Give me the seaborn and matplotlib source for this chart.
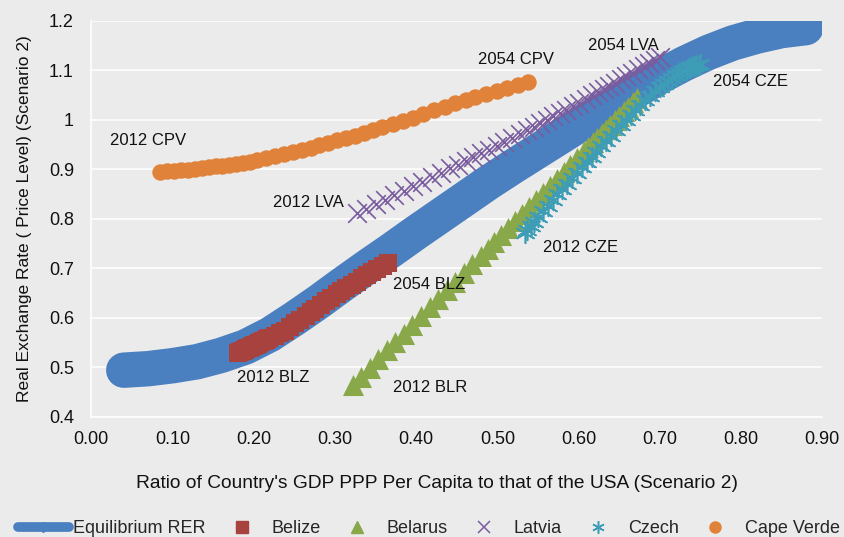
import matplotlib
matplotlib.use("Agg")
import matplotlib.pyplot as plt
import seaborn as sns
from matplotlib.lines import Line2D

# equilibrium RER curve (centre of the thick band)
eq_x = [0.040, 0.070, 0.100, 0.130, 0.160, 0.190, 0.220, 0.250, 0.280, 0.310, 0.340, 0.370, 0.400,
        0.430, 0.460, 0.490, 0.520, 0.550, 0.580, 0.610, 0.640, 0.670, 0.700, 0.730, 0.760, 0.790,
        0.820, 0.850, 0.880]
eq_y = [0.494, 0.497, 0.503, 0.511, 0.524, 0.541, 0.566, 0.598, 0.632, 0.668, 0.703, 0.737, 0.772,
        0.806, 0.840, 0.874, 0.906, 0.937, 0.968, 0.999, 1.028, 1.058, 1.087, 1.113, 1.136, 1.155,
        1.169, 1.180, 1.186]

# country paths 2012 -> 2054
blz_x = [0.181, 0.183, 0.185, 0.187, 0.189, 0.191, 0.193, 0.195, 0.197, 0.199, 0.201, 0.203, 0.205,
         0.207, 0.209, 0.211, 0.213, 0.215, 0.217, 0.219, 0.226, 0.232, 0.238, 0.245, 0.251, 0.257,
         0.264, 0.270, 0.276, 0.283, 0.289, 0.295, 0.302, 0.308, 0.314, 0.321, 0.327, 0.333, 0.340,
         0.346, 0.352, 0.359, 0.365]
blz_y = [0.529, 0.530, 0.532, 0.533, 0.535, 0.536, 0.538, 0.539, 0.541, 0.542, 0.544, 0.545, 0.547,
         0.548, 0.550, 0.552, 0.553, 0.555, 0.556, 0.558, 0.564, 0.569, 0.574, 0.582, 0.589, 0.596,
         0.604, 0.611, 0.618, 0.626, 0.633, 0.640, 0.647, 0.654, 0.660, 0.667, 0.673, 0.680, 0.687,
         0.693, 0.699, 0.705, 0.711]

blr_x = [0.322, 0.3325, 0.343, 0.3535, 0.364, 0.3745, 0.385, 0.3955, 0.406, 0.4165, 0.427, 0.4375,
         0.448, 0.4585, 0.469, 0.4795, 0.488, 0.4965, 0.505, 0.5135, 0.522, 0.5305, 0.539, 0.5475,
         0.556, 0.5645, 0.573, 0.5815, 0.590, 0.5985, 0.607, 0.612, 0.618, 0.623, 0.629, 0.634,
         0.639, 0.645, 0.650, 0.656, 0.661, 0.667, 0.672]
blr_y = [0.464, 0.481, 0.499, 0.516, 0.534, 0.551, 0.568, 0.586, 0.603, 0.621, 0.638, 0.655, 0.673,
         0.690, 0.708, 0.725, 0.739, 0.753, 0.767, 0.781, 0.795, 0.809, 0.824, 0.838, 0.852, 0.866,
         0.880, 0.894, 0.908, 0.922, 0.936, 0.945, 0.954, 0.963, 0.973, 0.981, 0.989, 0.999, 1.007,
         1.017, 1.026, 1.036, 1.044]

lva_x = [0.327, 0.3385, 0.350, 0.3615, 0.373, 0.3845, 0.396, 0.4075, 0.419, 0.4305, 0.442, 0.4515,
         0.461, 0.4705, 0.480, 0.4895, 0.499, 0.5085, 0.518, 0.5275, 0.537, 0.545, 0.553, 0.561,
         0.569, 0.577, 0.585, 0.593, 0.601, 0.609, 0.617, 0.624, 0.631, 0.638, 0.645, 0.652, 0.659,
         0.666, 0.673, 0.680, 0.687, 0.694, 0.700]
lva_y = [0.811, 0.820, 0.829, 0.838, 0.847, 0.856, 0.866, 0.875, 0.884, 0.893, 0.902, 0.909, 0.917,
         0.924, 0.932, 0.939, 0.947, 0.955, 0.963, 0.971, 0.979, 0.986, 0.993, 1.000, 1.007, 1.013,
         1.020, 1.027, 1.034, 1.041, 1.049, 1.056, 1.062, 1.069, 1.075, 1.082, 1.088, 1.095, 1.102,
         1.108, 1.115, 1.121, 1.127]

cze_x = [0.534, 0.537, 0.541, 0.545, 0.550, 0.556, 0.562, 0.568, 0.574, 0.580, 0.586, 0.592, 0.598,
         0.604, 0.610, 0.616, 0.622, 0.628, 0.634, 0.640, 0.646, 0.652, 0.658, 0.664, 0.670, 0.676,
         0.682, 0.688, 0.694, 0.700, 0.705, 0.710, 0.715, 0.720, 0.724, 0.728, 0.732, 0.736, 0.739,
         0.742, 0.745, 0.748, 0.750]
cze_y = [0.771, 0.777, 0.785, 0.793, 0.803, 0.815, 0.826, 0.838, 0.849, 0.860, 0.871, 0.882, 0.893,
         0.904, 0.914, 0.925, 0.935, 0.946, 0.957, 0.968, 0.979, 0.989, 0.999, 1.009, 1.019, 1.029,
         1.039, 1.048, 1.057, 1.066, 1.073, 1.079, 1.085, 1.090, 1.094, 1.098, 1.101, 1.104, 1.106,
         1.108, 1.110, 1.111, 1.112]

cpv_x = [0.085, 0.0935, 0.102, 0.1105, 0.119, 0.1275, 0.136, 0.1445, 0.153, 0.1615, 0.170, 0.1785,
         0.187, 0.1955, 0.204, 0.215, 0.226, 0.237, 0.248, 0.259, 0.270, 0.281, 0.292, 0.303, 0.314,
         0.325, 0.336, 0.347, 0.358, 0.371, 0.384, 0.396, 0.409, 0.422, 0.435, 0.448, 0.461, 0.473,
         0.486, 0.499, 0.512, 0.525, 0.538]
cpv_y = [0.895, 0.896, 0.897, 0.898, 0.899, 0.901, 0.902, 0.904, 0.906, 0.907, 0.909, 0.911, 0.913,
         0.915, 0.918, 0.922, 0.926, 0.930, 0.934, 0.938, 0.943, 0.948, 0.953, 0.958, 0.963, 0.968,
         0.974, 0.979, 0.985, 0.991, 0.998, 1.004, 1.011, 1.019, 1.026, 1.033, 1.039, 1.045, 1.052,
         1.058, 1.065, 1.071, 1.077]

# start / end labels
ann_text = ["2012 CPV", "2054 CPV", "2012 LVA", "2054 LVA", "2012 CZE", "2054 CZE",
            "2012 BLZ", "2054 BLZ", "2012 BLR"]
ann_x = [0.023, 0.476, 0.224, 0.612, 0.556, 0.765, 0.179, 0.371, 0.371]
ann_y = [0.957, 1.121, 0.833, 1.149, 0.742, 1.078, 0.480, 0.668, 0.458]

x_ticks = [0.0, 0.1, 0.2, 0.3, 0.4, 0.5, 0.6, 0.7, 0.8, 0.9]
x_tick_labels = ["0.00", "0.10", "0.20", "0.30", "0.40", "0.50", "0.60", "0.70", "0.80", "0.90"]
y_ticks = [0.4, 0.5, 0.6, 0.7, 0.8, 0.9, 1.0, 1.1, 1.2]
y_tick_labels = ["0.4", "0.5", "0.6", "0.7", "0.8", "0.9", "1", "1.1", "1.2"]

BG = "#EBEBEB"
C_EQ, C_BLZ, C_BLR = "#4A7FC0", "#A8423F", "#88A84A"
C_LVA, C_CZE, C_CPV = "#7A5B9E", "#3E9DB6", "#E0823A"

sns.set_style("darkgrid", {"axes.facecolor": BG, "figure.facecolor": BG, "grid.color": "white"})
plt.rcParams["font.family"] = ["Liberation Sans", "DejaVu Sans"]

fig = plt.figure(figsize=(8.45, 5.37), dpi=100)
ax = fig.add_axes([0.108, 0.224, 0.865, 0.7375])

sns.lineplot(x=eq_x, y=eq_y, color=C_EQ, linewidth=25.5, ax=ax,
             solid_capstyle="round", solid_joinstyle="round", zorder=2)
sns.scatterplot(x=blz_x, y=blz_y, marker="s", s=150, color=C_BLZ, linewidth=0, ax=ax, zorder=3)
sns.scatterplot(x=blr_x, y=blr_y, marker="^", s=230, color=C_BLR, linewidth=0, ax=ax, zorder=3)
sns.scatterplot(x=lva_x, y=lva_y, marker="x", s=180, color=C_LVA, linewidth=1.2, ax=ax, zorder=3)
sns.scatterplot(x=cze_x, y=cze_y, marker=(6, 2, 0), s=200, color=C_CZE, linewidth=1.2, ax=ax, zorder=3)
sns.scatterplot(x=cpv_x, y=cpv_y, marker="o", s=140, color=C_CPV, linewidth=0, ax=ax, zorder=3)

for t, tx, ty in zip(ann_text, ann_x, ann_y):
    ax.text(tx, ty, t, fontsize=12, ha="left", va="center", color="#111111", zorder=4)

ax.set_xlim(0, 0.9)
ax.set_ylim(0.4, 1.2)
ax.set_xticks(x_ticks, x_tick_labels)
ax.set_yticks(y_ticks, y_tick_labels)
ax.grid(axis="x", visible=False)
ax.grid(axis="y", color="white", linewidth=1.1)
ax.tick_params(axis="both", colors="white", length=4.5, width=1, labelsize=13, labelcolor="#111111")
ax.tick_params(axis="y", pad=8)
ax.tick_params(axis="x", pad=6)
for side in ["top", "right"]:
    ax.spines[side].set_visible(False)
for side in ["left", "bottom"]:
    ax.spines[side].set_visible(True)
    ax.spines[side].set_color("white")
    ax.spines[side].set_linewidth(1.1)

ax.set_xlabel("Ratio of Country's GDP PPP Per Capita to that of the USA (Scenario 2)",
              fontsize=13.8, labelpad=19, color="#111111")
ax.xaxis.label.set_x(0.473)
ax.set_ylabel("Real Exchange Rate ( Price Level) (Scenario 2)", fontsize=12.5, labelpad=12,
              color="#111111")

handles = [
    Line2D([], [], color=C_EQ, lw=7, solid_capstyle="round", marker="D", markersize=5),
    Line2D([], [], color=C_BLZ, lw=0, marker="s", markersize=8),
    Line2D([], [], color=C_BLR, lw=0, marker="^", markersize=9),
    Line2D([], [], color=C_LVA, lw=0, marker="x", markersize=8, markeredgewidth=1.1),
    Line2D([], [], color=C_CZE, lw=0, marker=(6, 2, 0), markersize=9, markeredgewidth=1.1),
    Line2D([], [], color=C_CPV, lw=0, marker="o", markersize=8),
]
labels = ["Equilibrium RER", "Belize", "Belarus", "Latvia", "Czech", "Cape Verde"]
fig.legend(handles, labels, loc="center left", bbox_to_anchor=(0.0215, 0.015), ncol=6,
           frameon=False, fontsize=13, handlelength=2.8, handletextpad=0.25, columnspacing=0.6,
           borderaxespad=0, borderpad=0)

fig.savefig("out.png", dpi=100, facecolor=BG)
